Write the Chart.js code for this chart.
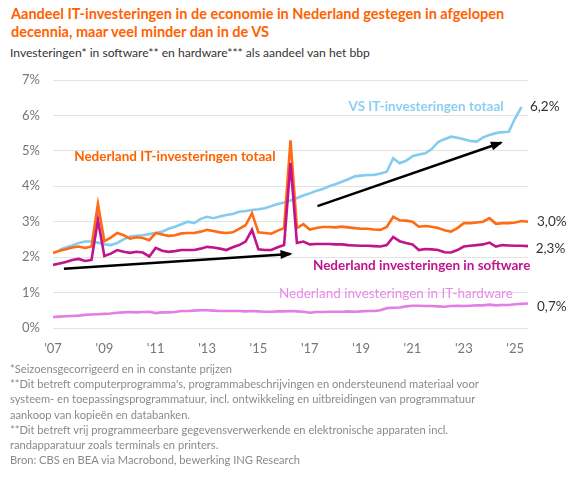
<!DOCTYPE html>
<html>
<head>
<meta charset="utf-8">
<script src="https://cdn.jsdelivr.net/npm/chart.js@4.4.1/dist/chart.umd.min.js"></script>
<style>
  html, body { margin: 0; padding: 0; background: #fff; }
  body { width: 579px; height: 480px; position: relative; overflow: hidden; font-family: Lato, "Noto Sans", sans-serif; }
  #title { position: absolute; left: 11px; top: 5px; color: #ff6200; font-weight: bold; font-size: 14.5px; line-height: 18px; white-space: nowrap; }
  #subtitle { position: absolute; left: 10px; top: 45px; color: #333; font-size: 12.1px; line-height: 16px; white-space: nowrap; }
  #notes { position: absolute; left: 10px; top: 361px; color: #8a8a8a; font-size: 11.15px; line-height: 15.2px; white-space: nowrap; }
  #wrap { position: absolute; left: 0; top: 70px; width: 579px; height: 292px; }
</style>
</head>
<body>
<div id="title">Aandeel IT-investeringen in de economie in Nederland gestegen in afgelopen<br>decennia, maar veel minder dan in de VS</div>
<div id="subtitle">Investeringen* in software** en hardware*** als aandeel van het bbp</div>
<div id="wrap"><canvas id="c"></canvas></div>
<div id="notes">*Seizoensgecorrigeerd en in constante prijzen<br>**Dit betreft computerprogramma's, programmabeschrijvingen en ondersteunend materiaal voor<br>systeem- en toepassingsprogrammatuur, incl. ontwikkeling en uitbreidingen van programmatuur<br>aankoop van kopieën en databanken.<br>**Dit betreft vrij programmeerbare gegevensverwerkende en elektronische apparaten incl.<br>randapparatuur zoals terminals en printers.<br>Bron: CBS en BEA via Macrobond, bewerking ING Research</div>
<script>
// Quarterly categories 2007Q1 .. 2025Q3
const quarters = [];
for (let y = 2007; y <= 2025; y++) {
  for (let q = 1; q <= 4; q++) {
    if (y === 2025 && q > 3) break;
    quarters.push(y + 'Q' + q);
  }
}

const yTicks = [0, 1, 2, 3, 4, 5, 6, 7];

// Nederland IT-investeringen totaal (% bbp)
const nlTotal = [
  2.12, 2.18, 2.22, 2.27, 2.30, 2.26, 2.30, 3.50, 2.45, 2.55,
  2.68, 2.62, 2.52, 2.56, 2.54, 2.48, 2.68, 2.64, 2.60, 2.62,
  2.67, 2.68, 2.68, 2.72, 2.77, 2.74, 2.70, 2.68, 2.70, 2.80,
  2.90, 3.24, 2.70, 2.68, 2.66, 2.75, 2.82, 5.30, 2.82, 2.93,
  2.78, 2.82, 2.85, 2.85, 2.84, 2.86, 2.84, 2.82, 2.80, 2.80,
  2.78, 2.77, 2.85, 3.14, 3.04, 3.03, 3.00, 2.86, 2.88, 2.86,
  2.82, 2.76, 2.72, 2.82, 2.96, 2.96, 2.98, 3.00, 3.10, 2.94,
  2.96, 2.96, 2.98, 3.02, 3.00
];

// Nederland investeringen in software
const nlSoftware = [
  1.78, 1.82, 1.86, 1.92, 1.95, 1.89, 1.92, 3.05, 2.03, 2.10,
  2.20, 2.15, 2.12, 2.15, 2.13, 2.02, 2.26, 2.18, 2.15, 2.17,
  2.20, 2.20, 2.20, 2.24, 2.29, 2.27, 2.24, 2.20, 2.28, 2.34,
  2.44, 2.77, 2.22, 2.20, 2.20, 2.28, 2.34, 4.66, 2.40, 2.44,
  2.36, 2.37, 2.37, 2.37, 2.36, 2.36, 2.34, 2.33, 2.32, 2.32,
  2.31, 2.30, 2.34, 2.57, 2.45, 2.40, 2.36, 2.20, 2.23, 2.22,
  2.20, 2.14, 2.13, 2.20, 2.30, 2.32, 2.34, 2.36, 2.41, 2.30,
  2.34, 2.33, 2.32, 2.32, 2.31
];

// Nederland investeringen in IT-hardware
const nlHardware = [
  0.31, 0.32, 0.33, 0.34, 0.35, 0.37, 0.38, 0.39, 0.40, 0.41,
  0.43, 0.44, 0.45, 0.44, 0.45, 0.46, 0.42, 0.44, 0.44, 0.45,
  0.48, 0.48, 0.49, 0.50, 0.50, 0.49, 0.48, 0.48, 0.48, 0.48,
  0.47, 0.48, 0.47, 0.46, 0.46, 0.47, 0.47, 0.48, 0.47, 0.46,
  0.43, 0.45, 0.45, 0.46, 0.46, 0.46, 0.47, 0.46, 0.47, 0.48,
  0.48, 0.50, 0.56, 0.57, 0.58, 0.61, 0.63, 0.63, 0.62, 0.62,
  0.61, 0.60, 0.62, 0.63, 0.62, 0.63, 0.64, 0.64, 0.66, 0.64,
  0.65, 0.65, 0.67, 0.68, 0.69
];

// VS IT-investeringen totaal (2007Q2 .. 2025Q2)
const usTotal = [
  null, 2.20, 2.27, 2.33, 2.40, 2.44, 2.44, 2.41, 2.36, 2.34,
  2.40, 2.50, 2.58, 2.60, 2.62, 2.65, 2.68, 2.72, 2.80, 2.86,
  2.93, 3.00, 2.96, 3.08, 3.14, 3.10, 3.15, 3.19, 3.22, 3.28,
  3.30, 3.33, 3.35, 3.38, 3.44, 3.50, 3.54, 3.60, 3.67, 3.74,
  3.80, 3.87, 3.92, 4.00, 4.06, 4.13, 4.20, 4.28, 4.30, 4.32,
  4.32, 4.36, 4.41, 4.79, 4.65, 4.72, 4.85, 4.90, 4.93, 5.05,
  5.25, 5.33, 5.40, 5.37, 5.33, 5.28, 5.26, 5.38, 5.45, 5.50,
  5.53, 5.54, 5.92, 6.24, null
];

// Trend arrows: [quarter index, value]
const arrowNL = [[1.7, 1.67], [37, 2.09]];
const arrowUS = [[41.2, 3.44], [69.8, 5.23]];

// Text annotations (anchor in data units)
const annotations = [
  { text: 'VS IT-investeringen totaal', x: 70.2, y: 6.24, align: 'right', color: '#8ccff2', weight: 'bold' },
  { text: '6,2%', x: 74.3, y: 6.24, align: 'left', color: '#333333', weight: 'normal' },
  { text: 'Nederland IT-investeringen totaal', x: 3.3, y: 4.83, align: 'left', color: '#ff6200', weight: 'bold' },
  { text: '3,0%', x: 75.4, y: 2.99, align: 'left', color: '#333333', weight: 'normal' },
  { text: '2,3%', x: 75.2, y: 2.23, align: 'left', color: '#333333', weight: 'normal' },
  { text: 'Nederland investeringen in software', x: 40.5, y: 1.75, align: 'left', color: '#c0138c', weight: 'bold' },
  { text: 'Nederland investeringen in IT-hardware', x: 35.2, y: 0.96, align: 'left', color: '#e88ae8', weight: 'normal' },
  { text: '0,7%', x: 75.4, y: 0.59, align: 'left', color: '#333333', weight: 'normal' }
];

const toXY = arr => arr.map((v, i) => ({ x: i, y: v }));
const toPts = arr => arr.map(p => ({ x: p[0], y: p[1] }));

const annotationPlugin = {
  id: 'annot',
  afterDatasetsDraw(chart) {
    const { ctx, scales } = chart;
    const xs = scales.x, ys = scales.y;
    ctx.save();
    [arrowNL, arrowUS].forEach(a => {
      const x0 = xs.getPixelForValue(a[0][0]), y0 = ys.getPixelForValue(a[0][1]);
      const x1 = xs.getPixelForValue(a[1][0]), y1 = ys.getPixelForValue(a[1][1]);
      const ang = Math.atan2(y1 - y0, x1 - x0);
      const L = 10, W = 4.5;
      ctx.beginPath();
      ctx.moveTo(x1 + Math.cos(ang) * 2, y1 + Math.sin(ang) * 2);
      ctx.lineTo(x1 - Math.cos(ang) * L - Math.sin(ang) * W, y1 - Math.sin(ang) * L + Math.cos(ang) * W);
      ctx.lineTo(x1 - Math.cos(ang) * L + Math.sin(ang) * W, y1 - Math.sin(ang) * L - Math.cos(ang) * W);
      ctx.closePath();
      ctx.fillStyle = '#000';
      ctx.fill();
    });
    ctx.textBaseline = 'middle';
    annotations.forEach(a => {
      ctx.font = a.weight + ' 13.5px Lato, "Noto Sans", sans-serif';
      ctx.fillStyle = a.color;
      ctx.textAlign = a.align;
      ctx.fillText(a.text, xs.getPixelForValue(a.x), ys.getPixelForValue(a.y));
    });
    ctx.restore();
  }
};

new Chart(document.getElementById('c'), {
  type: 'line',
  data: {
    datasets: [
      { label: 'arrowNL', data: toPts(arrowNL), borderColor: '#000', borderWidth: 2.5, pointRadius: 0 },
      { label: 'arrowUS', data: toPts(arrowUS), borderColor: '#000', borderWidth: 2.5, pointRadius: 0 },
      { label: 'Nederland investeringen in software', data: toXY(nlSoftware), borderColor: '#c0138c', borderWidth: 2.6, pointRadius: 0 },
      { label: 'Nederland IT-investeringen totaal', data: toXY(nlTotal), borderColor: '#ff6a13', borderWidth: 2.6, pointRadius: 0 },
      { label: 'Nederland investeringen in IT-hardware', data: toXY(nlHardware), borderColor: '#e57de6', borderWidth: 2.6, pointRadius: 0 },
      { label: 'VS IT-investeringen totaal', data: toXY(usTotal), borderColor: '#84cbf0', borderWidth: 2.6, pointRadius: 0 }
    ]
  },
  options: {
    responsive: true,
    maintainAspectRatio: false,
    animation: false,
    events: [],
    layout: { padding: { top: 10, right: 51, left: 0, bottom: 0 } },
    plugins: { legend: { display: false }, tooltip: { enabled: false } },
    scales: {
      x: {
        type: 'linear',
        min: 0,
        max: quarters.length - 1,
        grid: { display: false },
        border: { display: false },
        afterFit(s) { s.height = 34; s.paddingLeft = 0; s.paddingRight = 0; },
        ticks: {
          stepSize: 8,
          includeBounds: false,
          autoSkip: false,
          maxRotation: 0,
          padding: 5,
          color: '#777',
          font: { family: 'Lato, "Noto Sans", sans-serif', size: 13 },
          callback: v => (quarters[v] ? "'" + quarters[v].slice(2, 4) : '')
        }
      },
      y: {
        min: yTicks[0],
        max: yTicks[yTicks.length - 1],
        grid: { color: '#e3e3e3', lineWidth: 1, drawTicks: false },
        border: { display: false },
        afterFit(s) { s.width = 53; s.paddingTop = 0; s.paddingBottom = 0; },
        afterBuildTicks(s) { s.ticks = yTicks.map(v => ({ value: v })); },
        ticks: {
          padding: 13,
          color: '#777',
          font: { family: 'Lato, "Noto Sans", sans-serif', size: 13 },
          callback: v => v + '%'
        }
      }
    }
  },
  plugins: [annotationPlugin]
});
</script>
</body>
</html>
